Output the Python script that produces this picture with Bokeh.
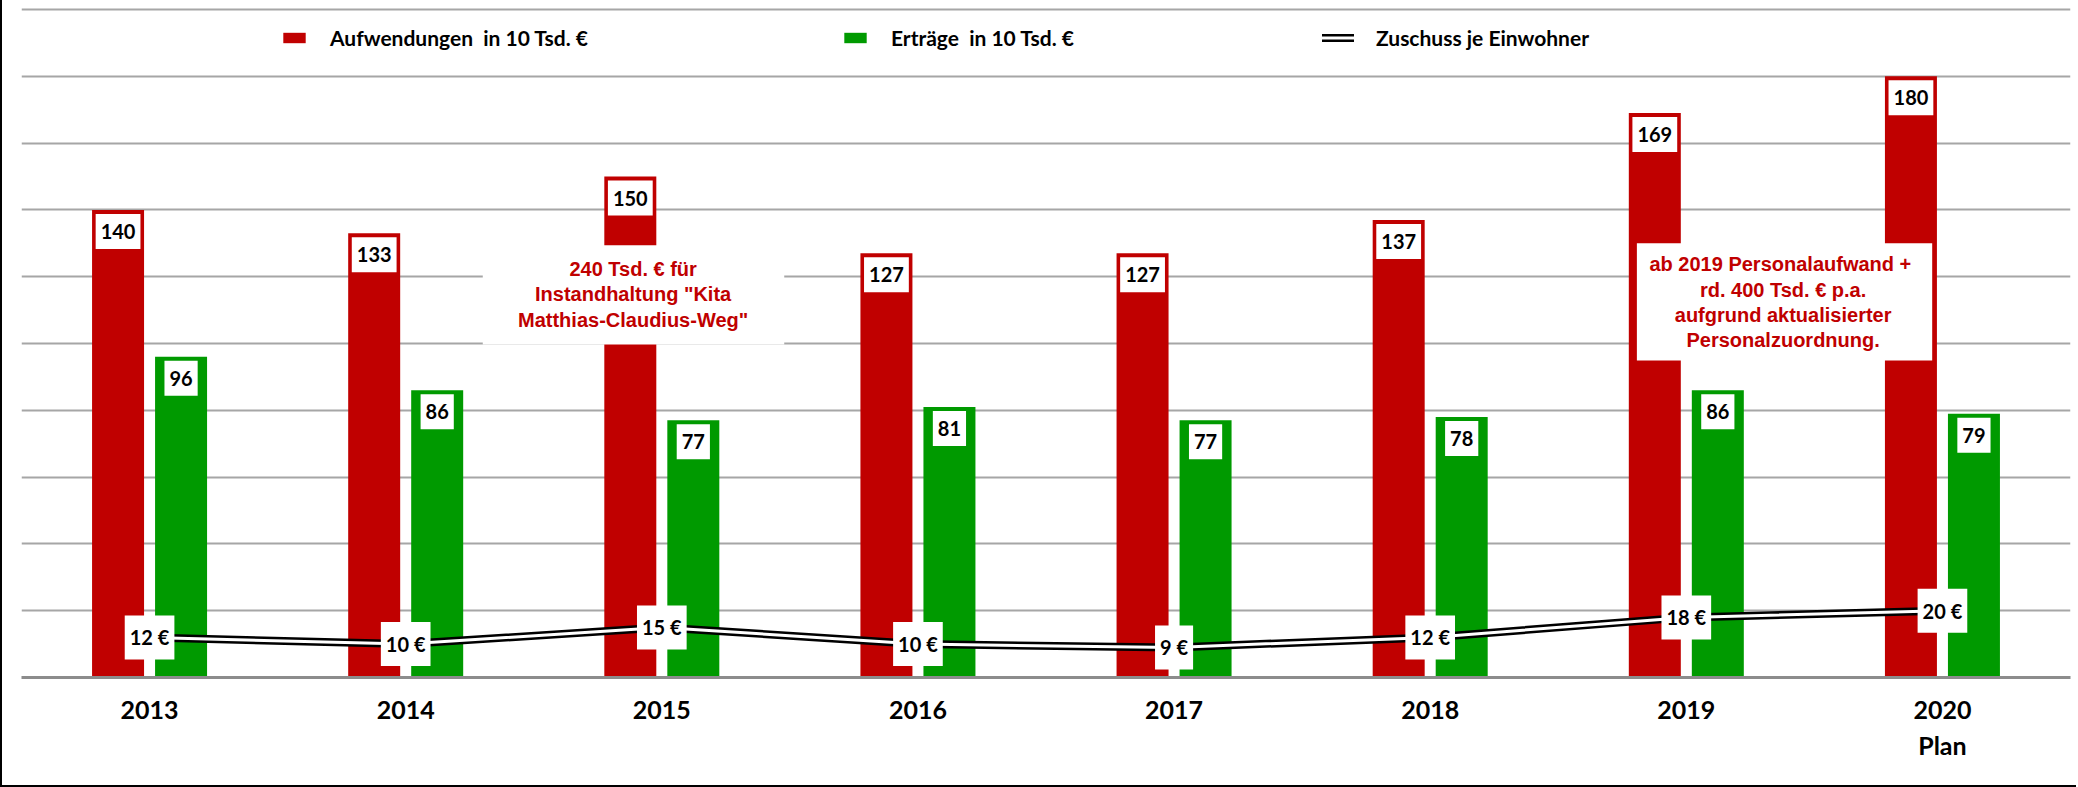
from bokeh.plotting import figure
from bokeh.models import (FactorRange, ColumnDataSource, Legend, LegendItem,
                          BoxAnnotation, Label, FixedTicker)
from bokeh.transform import dodge
from bokeh.core.properties import value
from bokeh.embed import file_html
from bokeh.resources import INLINE

# ---------------- data ----------------
years = ["2013", "2014", "2015", "2016", "2017", "2018", "2019", "2020\nPlan"]
aufwendungen = [140, 133, 150, 127, 127, 137, 169, 180]
ertraege = [96, 86, 77, 81, 77, 78, 86, 79]
zuschuss = [12, 10, 15, 10, 9, 12, 18, 20]
legend_labels = ["Aufwendungen  in 10 Tsd. €", "Erträge  in 10 Tsd. €", "Zuschuss je Einwohner"]
note_2015 = '240 Tsd. € für\nInstandhaltung "Kita\nMatthias-Claudius-Weg"'
note_2019 = "ab 2019  Personalaufwand +\nrd. 400 Tsd. € p.a.\naufgrund aktualisierter\nPersonalzuordnung."
y_ticks = list(range(0, 201, 20))

RED = "#C00000"
GREEN = "#009A00"
FONT = "Lato"

src = ColumnDataSource(dict(
    year=years,
    auf=aufwendungen,
    ert=ertraege,
    zus=zuschuss,
    auf_lbl=[str(v) for v in aufwendungen],
    ert_lbl=[str(v) for v in ertraege],
    zus_lbl=[f"{v} €" for v in zuschuss],
))

p = figure(x_range=FactorRange(factors=years), y_range=(0, 202.7),
           width=2076, height=787, output_backend="svg", toolbar_location=None,
           min_border_left=19, min_border_right=8, min_border_top=0, min_border_bottom=110)
p.title.visible = False
p.outline_line_color = None
p.background_fill_color = "white"
p.border_fill_color = "white"

# grid / axes
p.yaxis.visible = False
p.ygrid.ticker = FixedTicker(ticks=y_ticks)
p.ygrid.grid_line_color = "#a6a6a6"
p.ygrid.grid_line_width = 2
p.xgrid.grid_line_color = None
p.xaxis.axis_line_color = "#8c8c8c"
p.xaxis.axis_line_width = 3
p.xaxis.major_tick_line_color = None
p.xaxis.minor_tick_line_color = None
p.xaxis.major_tick_out = 0
p.xaxis.major_tick_in = 0
p.xaxis.major_label_standoff = 16
p.xaxis.major_label_text_font = FONT
p.xaxis.major_label_text_font_style = "bold"
p.xaxis.major_label_text_font_size = "25px"
p.xaxis.major_label_text_color = "black"

# bars
r_auf = p.vbar(x=dodge("year", -0.123, range=p.x_range), top="auf", width=0.203,
               source=src, fill_color=RED, line_color=None)
r_ert = p.vbar(x=dodge("year", 0.123, range=p.x_range), top="ert", width=0.203,
               source=src, fill_color=GREEN, line_color=None)

# double line
r_lb = p.line(x="year", y="zus", source=src, line_color="black", line_width=8,
              line_join="round", line_cap="round")
r_lw = p.line(x="year", y="zus", source=src, line_color="white", line_width=3,
              line_join="round", line_cap="round")

label_kw = dict(text_font=value(FONT), text_font_style="bold", text_font_size="20px",
                text_color="black", background_fill_color="white",
                padding=dict(left=5, right=5, top=10, bottom=10),
                border_line_color=None)
p.text(x=dodge("year", -0.123, range=p.x_range), y="auf", text="auf_lbl", source=src,
       anchor="top_center", y_offset=4, **label_kw)
p.text(x=dodge("year", 0.123, range=p.x_range), y="ert", text="ert_lbl", source=src,
       anchor="top_center", y_offset=4, **label_kw)
p.text(x="year", y="zus", text="zus_lbl", source=src, anchor="center", **label_kw)

# annotation notes
p.add_layout(BoxAnnotation(left=1.801, right=2.978, bottom=99.7, top=129.4,
                           fill_color="white", fill_alpha=1, line_color=None))
p.add_layout(BoxAnnotation(left=6.307, right=7.460, bottom=94.9, top=130.0,
                           fill_color="white", fill_alpha=1, line_color=None))
note_kw = dict(text_align="center", text_baseline="middle", text_font="Liberation Sans",
               text_font_style="bold", text_font_size="20px", text_color=RED,
               text_line_height=1.15)
p.add_layout(Label(x=2.388, y=114.7, text=note_2015, **note_kw))
p.add_layout(Label(x=6.878, y=112.3, text=note_2019, **note_kw))

# legends
def make_legend(label, renderers, loc, gw, gh):
    return Legend(items=[LegendItem(label=label, renderers=renderers)], location=loc,
                  orientation="horizontal", padding=0, margin=0, glyph_width=gw,
                  glyph_height=gh, label_standoff=22, border_line_alpha=0,
                  background_fill_alpha=0, label_text_font=FONT,
                  label_text_font_style="bold", label_text_font_size="21px",
                  label_text_color="black")

p.add_layout(make_legend(legend_labels[0], [r_auf], (259, 627), 28, 13))
p.add_layout(make_legend(legend_labels[1], [r_ert], (820, 627), 28, 13))
p.add_layout(make_legend(legend_labels[2], [r_lb, r_lw], (1301, 627), 32, 13))

p.styles = {"border-left": "2px solid black", "border-bottom": "2px solid black"}

open("out.html", "w").write(file_html(p, INLINE))
